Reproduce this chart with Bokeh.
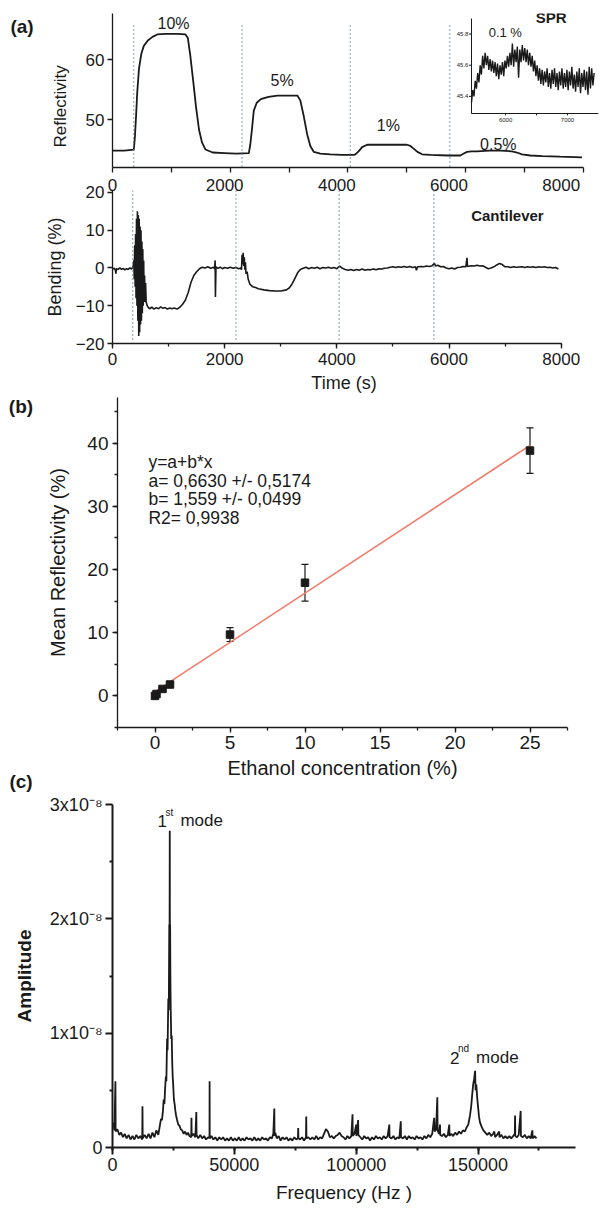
import math
from bokeh.plotting import figure
from bokeh.models import (Range1d, LinearAxis, SingleIntervalTicker, FixedTicker, Div,
                          ColumnDataSource, Whisker, TeeHead, Label, Title, BasicTickFormatter)
from bokeh.layouts import column, row
from bokeh.embed import file_html
from bokeh.resources import INLINE

FONT = "Liberation Sans"
INK = "#1a1a1a"

# ---------------- panel (a): SPR reflectivity vs time ----------------
refl_time = [0, 200, 362, 380, 400, 420, 450, 490, 532, 600, 680, 760, 900, 1100, 1240, 1280, 1320, 1370, 1420, 1470, 1520, 1580, 1700, 1900, 2100,
             2316, 2340, 2370, 2400, 2450, 2520, 2650, 2800, 3000, 3140, 3190, 3250, 3305, 3360, 3420, 3530, 3700, 3900, 4100,
             4125, 4180, 4240, 4325, 4500, 4800, 5000, 5060, 5110, 5180, 5258, 5400, 5700,
             5908, 5960, 6022, 6100, 6192, 6400, 6600, 6786, 6870, 6956, 7097, 7300, 7600, 7975]
refl_value = [44.8, 44.8, 45.0, 47.0, 50.5, 54.5, 58.5, 61.0, 62.3, 63.2, 63.8, 64.2, 64.3, 64.3, 64.2, 63.6, 60.8, 56.5, 52.0, 48.3, 46.2, 45.0, 44.5, 44.4, 44.3,
              44.4, 45.8, 48.5, 51.5, 52.8, 53.4, 53.8, 54.0, 54.0, 54.0, 53.2, 50.5, 47.6, 45.6, 44.6, 44.3, 44.2, 44.1, 44.1,
              44.2, 44.7, 45.4, 45.8, 45.8, 45.8, 45.8, 45.6, 45.2, 44.6, 44.2, 44.1, 44.0,
              44.0, 44.3, 44.6, 44.7, 44.7, 44.8, 44.8, 44.7, 44.5, 44.2, 44.0, 43.9, 43.8, 43.7]
time_ticks_minor = [0, 1000, 2000, 3000, 4000, 5000, 6000, 7000, 8000]

# inset: 0.1 % step
inset_time = [5450, 5470, 5490, 5510, 5530, 5550, 5570, 5590, 5610, 5630,
              5650, 5670, 5690, 5710, 5730, 5750, 5770, 5790, 5810, 5830,
              5850, 5870, 5890, 5910, 5930, 5950, 5970, 5990, 6010, 6030,
              6050, 6070, 6090, 6110, 6130, 6150, 6170, 6190, 6210, 6230,
              6250, 6270, 6290, 6310, 6330, 6350, 6370, 6390, 6410, 6430,
              6450, 6470, 6490, 6510, 6530, 6550, 6570, 6590, 6610, 6630,
              6650, 6670, 6690, 6710, 6730, 6750, 6770, 6790, 6810, 6830,
              6850, 6870, 6890, 6910, 6930, 6950, 6970, 6990, 7010, 7030,
              7050, 7070, 7090, 7110, 7130, 7150, 7170, 7190, 7210, 7230,
              7250, 7270, 7290, 7310, 7330, 7350, 7370, 7390, 7410, 7430]
inset_value = [45.36, 45.44, 45.40, 45.50, 45.45, 45.55, 45.49, 45.60, 45.54, 45.66,
               45.58, 45.68, 45.60, 45.66, 45.57, 45.64, 45.56, 45.63, 45.55, 45.62,
               45.53, 45.61, 45.51, 45.60, 45.54, 45.62, 45.53, 45.63, 45.58, 45.66,
               45.59, 45.68, 45.60, 45.74, 45.59, 45.70, 45.62, 45.72, 45.52, 45.70,
               45.62, 45.73, 45.63, 45.71, 45.62, 45.70, 45.60, 45.68, 45.59, 45.66,
               45.56, 45.63, 45.53, 45.60, 45.50, 45.58, 45.48, 45.57, 45.47, 45.56,
               45.49, 45.58, 45.46, 45.55, 45.45, 45.57, 45.48, 45.58, 45.46, 45.55,
               45.44, 45.56, 45.47, 45.58, 45.45, 45.55, 45.46, 45.57, 45.44, 45.56,
               45.47, 45.59, 45.45, 45.54, 45.43, 45.56, 45.46, 45.58, 45.42, 45.55,
               45.46, 45.57, 45.44, 45.56, 45.41, 45.59, 45.45, 45.58, 45.47, 45.55]
inset_ticks_y = [45.4, 45.6, 45.8]
inset_ticks_x = [6000, 7000]
inset_ticks_x_minor = [6000, 6500, 7000]

# cantilever bending vs time
bend_time = [0, 30, 50, 60, 70, 100, 130, 160, 190, 220, 250, 280, 310, 340, 370,
             380, 388, 396, 404, 412, 420, 428, 436, 444, 452, 460, 468, 476, 484, 492, 500, 508, 516, 524, 532, 540, 548, 556, 564, 572, 580, 590, 600, 620, 640,
             660, 700, 740, 780, 820, 860, 900, 940, 980, 1020, 1060, 1100, 1150,
             1200, 1250, 1300, 1350, 1400, 1450, 1500, 1550, 1600,
             1650, 1700, 1750, 1800, 1820, 1830, 1835, 1845, 1880, 1920, 1960, 2000, 2050, 2100, 2150, 2200, 2250, 2290,
             2300, 2310, 2320, 2330, 2340, 2350, 2360, 2370, 2380, 2400, 2420, 2450, 2500, 2550,
             2600, 2700, 2800, 2900, 3000, 3100, 3150, 3200, 3250, 3300, 3350, 3400,
             3450, 3500, 3550, 3600, 3650, 3700, 3750, 3800, 3850, 3900, 3950, 4000, 4050, 4100,
             4150, 4200, 4250, 4300, 4350, 4400, 4450, 4500, 4550, 4600, 4650, 4700, 4750, 4800, 4850, 4900, 4950,
             5000, 5050, 5100, 5150, 5200, 5250, 5300, 5350, 5400, 5420, 5440, 5500, 5550, 5600, 5650, 5700, 5740, 5760, 5800, 5850, 5900, 5950,
             6000, 6050, 6100, 6150, 6200, 6250, 6300, 6320, 6330, 6400, 6450, 6500, 6550, 6600, 6650, 6700, 6750, 6800, 6850, 6900, 6950,
             7000, 7050, 7100, 7150, 7200, 7300, 7350, 7400, 7450, 7500, 7550, 7600, 7650, 7700, 7750, 7800, 7850, 7900, 7950]
bend_value = [-0.3, -0.1, -0.5, -1.5, -0.2, -0.4, 0.0, -0.4, -0.1, -0.5, -0.2, -0.4, 0.0, -0.3, 0.5,
              2, -3, 6, -5, 9, -8, 13, -10, 15, -14, 14, -18, 13, -17, 11, -15, 10, -14, 7, -12, 5, -10, 2, -9, -2, -9, -4, -9, -10, -10.5,
              -10.8, -10.4, -10.9, -10.5, -10.8, -10.3, -10.7, -10.5, -10.9, -10.6, -10.8, -10.6, -10.9,
              -10.4, -9.6, -8.5, -6.5, -3.8, -2.0, -1.0, -0.2, 0.2,
              0.0, 0.3, -0.1, 0.2, -0.2, 2.0, -7.7, 0.3, -0.1, 0.2, -0.2, 0.1, -0.1, 0.2, -0.1, 0.1, -0.2, 0.0,
              -0.5, 3.5, 1.0, 4.0, 0.5, 2.8, -0.5, 1.5, -1.5, -1.0, -3.0, -4.3, -5.0, -5.2,
              -5.5, -5.8, -6.0, -6.1, -6.1, -5.8, -5.3, -4.3, -2.8, -1.3, -0.4, -0.1,
              0.2, -0.2, 0.1, -0.1, 0.2, -0.2, 0.1, 0.0, 0.2, -0.1, 0.1, -0.2, 0.5, -0.1,
              -0.4, -0.6, -0.4, -0.7, -0.4, -0.6, -0.3, -0.6, -0.4, -0.5, -0.3, -0.5, -0.2, -0.3, -0.1, 0.0, 0.2,
              0.3, 0.1, 0.3, 0.2, 0.4, 0.2, 0.4, 0.1, 0.3, -0.6, 0.3, 0.4, 0.3, 0.5, 0.4, 0.6, 1.2, 0.5, 0.7, 0.3, 0.4, 0.0,
              -0.2, 0.0, -0.3, 0.1, 0.2, 0.4, 0.3, 2.7, 0.4, 0.6, 0.5, 0.7, 0.5, 0.6, 0.2, -0.2, 0.0, 0.3, 0.8, 1.2, 0.9,
              0.3, 0.3, 0.1, 0.3, 0.2, 0.3, 0.1, 0.3, 0.2, 0.3, 0.1, 0.3, 0.2, 0.3, 0.1, 0.2, 0.0, 0.1, -0.3]

injection_times = [360, 2200, 4040, 5730]
step_labels = ["10%", "5%", "1%", "0.5%"]

# ---------------- panel (b): calibration ----------------
ethanol_conc = [0, 0.1, 0.5, 1, 5, 10, 25]
mean_refl = [0.0, 0.3, 1.1, 1.8, 9.7, 17.9, 38.8]
refl_err = [0.2, 0.2, 0.3, 0.3, 1.1, 2.9, 3.6]
fit_a, fit_b = 0.6630, 1.559
fit_text = ["y=a+b*x", "a= 0,6630 +/- 0,5174", "b= 1,559 +/- 0,0499", "R2= 0,9938"]

# ---------------- panel (c): spectrum ----------------
freq_hz = [300, 800, 1200, 1300, 2000, 2800, 3500, 4300, 5000, 5800, 6600, 7400, 8200, 9000, 9800, 10600, 11400, 12200, 12300, 12400,
           13200, 14000, 14800, 15600, 16400, 17200, 18000, 18800, 19500, 19900,
           20300, 20700, 21000, 21300, 21600, 21900, 22100, 22400, 22600, 22900, 23100, 23300, 23400, 23500, 23550, 23650, 23750, 23900, 24100, 24300,
           24500, 24700, 24900, 25200, 25500, 25800, 26100, 26500, 27000, 27500, 28000, 28600, 29200, 29800, 30400, 31000, 31600,
           32300, 32400, 32500, 33200, 34000, 34400, 34500, 35200, 36000, 36800, 37600, 38400, 39200, 39800, 39850, 39900,
           40600, 41400, 42200, 43000, 43800, 44600, 45400, 46200, 47000, 47800, 48600, 49400, 50200, 51000, 51800, 52600,
           53400, 54200, 55000, 55800, 56600, 57400, 58200, 59000, 59800, 60600, 61400, 62200, 63000, 63800, 64600, 65400,
           66000, 66400, 66500, 66800, 67400, 68200, 69000, 69800, 70600, 71400, 72200, 73000, 73800, 74600, 75400, 76100, 76200, 76300,
           77000, 77800, 78600, 79400, 79500, 79600, 80400, 81200, 82000, 82800, 83600, 84400, 85200, 86000, 86800, 87600, 88400, 89200,
           90000, 90800, 91600, 92400, 93200, 94000, 94800, 95600, 96400, 97200, 98000, 98500, 98600, 99300, 100000, 100100, 100800, 100900,
           101700, 102500, 103300, 104100, 104900, 105700, 106500, 107300, 108100, 108900, 109700, 110500, 111300, 112100, 112900, 113600, 113700,
           114500, 115300, 116100, 116900, 117700, 118300, 118400,
           119200, 120000, 120800, 121600, 122400, 123200, 124000, 124800, 125600, 126400, 127200, 128000, 128800, 129600, 130400, 131200,
           132000, 132200, 132800, 133300, 133400, 134000, 134400, 134500,
           135200, 136000, 136800, 137600, 138200, 138300, 139000, 139800, 140600, 141400, 142200, 143000, 143800, 144600, 145400,
           146000, 146700, 147200, 147600, 148000, 148400, 148800, 149000, 149300, 149600, 150000, 150400, 150800, 151500,
           152200, 153000, 153800, 154600, 155400, 156200, 156700, 157000, 157800, 158700, 158800, 159600, 160400, 161200, 162000, 162800, 163600,
           164400, 165100, 165200, 165300, 166000, 166700, 167500, 167600, 168400, 169200, 170000, 170800, 171600, 172300, 172400, 173200, 174000]
amp_1e8 = [0.22, 0.15, 0.58, 0.14, 0.16, 0.11, 0.13, 0.09, 0.12, 0.08, 0.11, 0.07, 0.10, 0.07, 0.11, 0.08, 0.10, 0.07, 0.36, 0.08,
           0.11, 0.08, 0.12, 0.08, 0.13, 0.09, 0.15, 0.11, 0.20, 0.25,
           0.24, 0.32, 0.42, 0.38, 0.52, 0.62, 0.58, 0.95, 0.85, 1.30, 1.20, 1.95, 1.60, 2.77, 1.90, 1.95, 1.50, 1.20, 0.95, 0.98,
           0.75, 0.62, 0.55, 0.42, 0.38, 0.32, 0.28, 0.24, 0.20, 0.19, 0.16, 0.15, 0.12, 0.14, 0.11, 0.13, 0.10,
           0.09, 0.26, 0.10, 0.12, 0.09, 0.31, 0.11, 0.08, 0.11, 0.08, 0.10, 0.07, 0.09, 0.08, 0.58, 0.08,
           0.10, 0.07, 0.09, 0.06, 0.09, 0.07, 0.09, 0.06, 0.08, 0.06, 0.09, 0.06, 0.08, 0.06, 0.09, 0.06,
           0.08, 0.06, 0.09, 0.07, 0.08, 0.06, 0.09, 0.06, 0.08, 0.06, 0.09, 0.07, 0.08, 0.06, 0.09, 0.08,
           0.12, 0.34, 0.10, 0.13, 0.08, 0.10, 0.06, 0.09, 0.07, 0.09, 0.06, 0.08, 0.06, 0.09, 0.07, 0.08, 0.17, 0.08,
           0.07, 0.09, 0.06, 0.09, 0.27, 0.08, 0.09, 0.07, 0.09, 0.07, 0.10, 0.07, 0.09, 0.08, 0.12, 0.16, 0.14, 0.09,
           0.10, 0.08, 0.10, 0.11, 0.13, 0.10, 0.09, 0.07, 0.10, 0.08, 0.10, 0.29, 0.10, 0.12, 0.20, 0.10, 0.24, 0.11,
           0.09, 0.07, 0.10, 0.08, 0.09, 0.06, 0.09, 0.07, 0.10, 0.08, 0.09, 0.07, 0.10, 0.08, 0.10, 0.20, 0.09,
           0.08, 0.10, 0.07, 0.09, 0.08, 0.23, 0.09,
           0.08, 0.10, 0.07, 0.10, 0.08, 0.09, 0.07, 0.10, 0.08, 0.09, 0.07, 0.10, 0.08, 0.11, 0.09, 0.12,
           0.26, 0.14, 0.16, 0.44, 0.15, 0.12, 0.20, 0.11,
           0.10, 0.12, 0.09, 0.11, 0.20, 0.10, 0.12, 0.10, 0.13, 0.11, 0.14, 0.12, 0.15, 0.14, 0.18,
           0.20, 0.28, 0.36, 0.46, 0.55, 0.60, 0.67, 0.50, 0.55, 0.45, 0.36, 0.27, 0.22, 0.18,
           0.15, 0.13, 0.11, 0.13, 0.10, 0.12, 0.14, 0.09, 0.11, 0.14, 0.09, 0.11, 0.08, 0.10, 0.08, 0.10, 0.08,
           0.10, 0.12, 0.28, 0.10, 0.09, 0.11, 0.32, 0.10, 0.09, 0.11, 0.08, 0.10, 0.08, 0.15, 0.08, 0.10, 0.08]
amp_tick_labels = {0: "0", 1: "1x10\u207b\u2078", 2: "2x10\u207b\u2078", 3: "3x10\u207b\u2078"}

assert len(refl_time) == len(refl_value)
assert len(inset_time) == len(inset_value)
assert len(bend_time) == len(bend_value)
assert len(freq_hz) == len(amp_1e8)


def style(p, tick_px, label_px, axis_w, tick_out=5):
    p.xgrid.visible = False
    p.ygrid.visible = False
    p.outline_line_color = None
    p.background_fill_color = "white"
    p.border_fill_color = "white"
    for ax in p.axis:
        ax.axis_line_width = axis_w
        ax.axis_line_color = INK
        ax.major_tick_line_color = INK
        ax.major_tick_line_width = axis_w
        ax.minor_tick_line_color = INK
        ax.minor_tick_line_width = axis_w
        ax.major_tick_in = 0
        ax.major_tick_out = tick_out
        ax.minor_tick_in = 0
        ax.minor_tick_out = 3
        ax.major_label_text_font = FONT
        ax.major_label_text_font_size = f"{tick_px}px"
        ax.major_label_text_color = INK
        ax.axis_label_text_font = FONT
        ax.axis_label_text_font_size = f"{label_px}px"
        ax.axis_label_text_font_style = "normal"
        ax.axis_label_text_color = INK


def add_text(p, x, y, text, size, bold=False, align="left", baseline="middle",
             angle=0.0, xr="default", yr="default"):
    p.add_layout(Label(x=x, y=y, text=text, text_font=FONT, text_font_size=f"{size}px",
                       text_font_style="bold" if bold else "normal", text_align=align,
                       text_baseline=baseline, angle=angle, text_color=INK,
                       x_range_name=xr, y_range_name=yr))


def span_range(v0, v1, f0, f1):
    scale = (v1 - v0) / (f1 - f0)
    start = v0 - f0 * scale
    return Range1d(start, start + scale)


LETTER_W = 36


def letter_div(height, letters):
    """narrow strip holding the bold panel letters (left/top in px inside the strip)"""
    items = "".join(
        f'<div style="position:absolute;left:{x}px;top:{y}px;width:28px;text-align:center;'
        f'line-height:20px;white-space:nowrap;">{t}</div>' for t, x, y in letters)
    html = (f'<div style="position:relative;width:{LETTER_W}px;height:{height}px;'
            f'font-family:\'{FONT}\',Arial,sans-serif;font-weight:bold;font-size:19px;color:{INK};">'
            f'{items}</div>')
    return Div(text=html, width=LETTER_W, height=height, margin=(0, 0, 0, 0))


W = 600
time_range = Range1d(0, 8255)

# ---------- (a) top: reflectivity ----------
pA = figure(width=W - LETTER_W, height=173, x_range=time_range, y_range=Range1d(42, 67.7),
            output_backend="svg", toolbar_location=None,
            min_border_left=112 - LETTER_W, min_border_right=2, min_border_top=13, min_border_bottom=6)
pA.line(refl_time, refl_value, color=INK, line_width=1.8)
pA.segment(x0=injection_times, y0=[65.7] * 4, x1=injection_times, y1=[42] * 4,
           line_color="#4d7396", line_width=1.4, line_dash="1 3")
style(pA, 17, 18, 1.3)
pA.xaxis.ticker = FixedTicker(ticks=[], minor_ticks=time_ticks_minor)
pA.xaxis.minor_tick_out = 5
pA.xaxis.bounds = (0, 8000)
pA.yaxis.ticker = FixedTicker(ticks=[50, 60], minor_ticks=[])
pA.yaxis.major_label_standoff = 3
pA.add_layout(Title(text="Reflectivity", align="left", offset=20, standoff=24,
                    vertical_align="middle", text_font=FONT, text_font_size="17px",
                    text_font_style="normal", text_color=INK), "left")

# inset mapped to its own pixel box inside the frame
frame_x = (112, 598)
frame_y = (13, 167)
inset_px_x = (471, 598)
inset_px_y = (113, 18)
fx0 = (inset_px_x[0] - frame_x[0]) / (frame_x[1] - frame_x[0])
fx1 = (inset_px_x[1] - frame_x[0]) / (frame_x[1] - frame_x[0])
fy0 = (frame_y[1] - inset_px_y[0]) / (frame_y[1] - frame_y[0])
fy1 = (frame_y[1] - inset_px_y[1]) / (frame_y[1] - frame_y[0])
t_lo, t_hi, r_lo, r_hi = 5450, 7500, 45.29, 45.9
pA.extra_x_ranges = {"ix": span_range(t_lo, t_hi, fx0, fx1)}
pA.extra_y_ranges = {"iy": span_range(r_lo, r_hi, fy0, fy1)}
pA.line(inset_time, inset_value, x_range_name="ix", y_range_name="iy", color=INK, line_width=1.4)
pA.line([t_lo, t_lo, t_hi], [r_hi, r_lo, r_lo], x_range_name="ix", y_range_name="iy",
        color=INK, line_width=1.0)
pA.segment(x0=[t_lo] * 3, y0=inset_ticks_y, x1=[t_lo - 40] * 3, y1=inset_ticks_y,
           x_range_name="ix", y_range_name="iy", color=INK, line_width=1.0)
pA.segment(x0=inset_ticks_x_minor, y0=[r_lo] * 3, x1=inset_ticks_x_minor, y1=[r_lo - 0.012] * 3,
           x_range_name="ix", y_range_name="iy", color=INK, line_width=1.0)
for v in inset_ticks_y:
    add_text(pA, t_lo - 50, v, f"{v:.1f}", 6, align="right", xr="ix", yr="iy")
for v in inset_ticks_x:
    add_text(pA, v, r_lo - 0.03, str(v), 6, align="center", baseline="top", xr="ix", yr="iy")
add_text(pA, 6672, 64.56, "0.1 %", 13, align="center")
add_text(pA, 7453, 67.0, "SPR", 15, bold=True, align="center")

add_text(pA, 1036, 66.0, step_labels[0], 16, align="center")
add_text(pA, 2881, 56.6, step_labels[1], 16, align="center")
add_text(pA, 4686, 49.0, step_labels[2], 16, align="center")
add_text(pA, 6553, 45.9, step_labels[3], 16, align="center")

LA = letter_div(173, [("(a)", 8, 17)])

# ---------- (a) bottom: bending ----------
pB = figure(width=W, height=222, x_range=time_range, y_range=Range1d(-20, 20.5),
            output_backend="svg", toolbar_location=None,
            min_border_left=112, min_border_right=2, min_border_top=17, min_border_bottom=51)
top_ax = LinearAxis(ticker=SingleIntervalTicker(interval=2000, num_minor_ticks=2), bounds=(0, 8000))
pB.add_layout(top_ax, "above")
pB.line(bend_time, bend_value, color=INK, line_width=1.6)
pB.segment(x0=injection_times, y0=[20.5] * 4, x1=injection_times, y1=[-19] * 4,
           line_color="#4d7396", line_width=1.4, line_dash="1 3")
style(pB, 17, 18, 1.3)
top_ax.axis_line_color = None
top_ax.major_tick_line_color = None
top_ax.minor_tick_line_color = None
top_ax.major_tick_out = 0
top_ax.minor_tick_out = 0
top_ax.major_label_standoff = 0
pB.below[0].ticker = SingleIntervalTicker(interval=2000, num_minor_ticks=2)
pB.below[0].bounds = (0, 8000)
pB.below[0].axis_label = "Time (s)"
pB.below[0].major_label_standoff = 4
pB.below[0].axis_label_standoff = 5
pB.yaxis.ticker = FixedTicker(ticks=[-20, -10, 0, 10, 20], minor_ticks=[])
pB.yaxis.axis_label = "Bending (%)"
pB.yaxis.major_label_standoff = 3
pB.yaxis.axis_label_standoff = 8
add_text(pB, 7041, 13.9, "Cantilever", 15, bold=True, align="center")

# ---------- (b) calibration ----------
HC = 397
pC = figure(width=W - LETTER_W, height=HC, x_range=Range1d(-2.5, 27.5), y_range=Range1d(-5, 47.2),
            output_backend="svg", toolbar_location=None,
            min_border_left=117 - LETTER_W, min_border_right=33, min_border_top=2, min_border_bottom=HC - 332)
fit_x = [0, 25]
fit_y = [fit_a + fit_b * x for x in fit_x]
pC.line(fit_x, fit_y, color="#f27a6b", line_width=1.6)
src = ColumnDataSource(dict(x=ethanol_conc, y=mean_refl,
                            upper=[m + e for m, e in zip(mean_refl, refl_err)],
                            lower=[m - e for m, e in zip(mean_refl, refl_err)]))
pC.add_layout(Whisker(source=src, base="x", upper="upper", lower="lower", dimension="height",
                      line_color=INK, line_width=1.2,
                      upper_head=TeeHead(size=7, line_color=INK, line_width=1.2),
                      lower_head=TeeHead(size=7, line_color=INK, line_width=1.2)))
pC.scatter("x", "y", source=src, marker="square", size=7.5, color=INK)
style(pC, 19, 20, 1.3)
pC.xaxis.ticker = SingleIntervalTicker(interval=5, num_minor_ticks=2)
pC.yaxis.ticker = SingleIntervalTicker(interval=10, num_minor_ticks=2)
pC.xaxis.axis_label = "Ethanol concentration (%)"
pC.yaxis.axis_label = "Mean Reflectivity (%)"
pC.xaxis.major_label_standoff = 3
pC.xaxis.axis_label_standoff = 5
pC.yaxis.major_label_standoff = 4
pC.yaxis.axis_label_standoff = 15
for i, line in enumerate(fit_text):
    add_text(pC, -0.44, 36.97 - 2.95 * i, line, 17.5)

LC = letter_div(HC, [("(b)", 7, 2), ("(c)", 7, 377)])

# ---------- (c) spectrum ----------
pD = figure(width=W, height=415, x_range=Range1d(0, 190000), y_range=Range1d(0, 3.0),
            output_backend="svg", toolbar_location=None,
            min_border_left=112, min_border_right=25, min_border_top=12, min_border_bottom=60)
pD.line(freq_hz, amp_1e8, color=INK, line_width=1.8)
style(pD, 18, 19, 2.0, tick_out=7)
pD.xaxis.ticker = SingleIntervalTicker(interval=50000, num_minor_ticks=2)
pD.xaxis.formatter = BasicTickFormatter(use_scientific=False)
pD.yaxis.ticker = FixedTicker(ticks=[0, 1, 2, 3], minor_ticks=[0.5, 1.5, 2.5])
pD.yaxis.major_label_overrides = amp_tick_labels
pD.xaxis.axis_label = "Frequency (Hz )"
pD.yaxis.axis_label = "Amplitude"
pD.yaxis.axis_label_text_font_style = "bold"
pD.xaxis.major_label_standoff = 3
pD.xaxis.axis_label_standoff = 8
pD.yaxis.major_label_standoff = 3
pD.yaxis.axis_label_standoff = 12
add_text(pD, 18440, 2.86, "1", 17)
add_text(pD, 21720, 2.93, "st", 10)
add_text(pD, 27870, 2.86, "mode", 17)
add_text(pD, 138500, 0.787, "2", 17)
add_text(pD, 141800, 0.866, "nd", 10)
add_text(pD, 149200, 0.787, "mode", 17)

layout = column(row(LA, pA), pB, row(LC, pC), pD)
open("out.html", "w").write(file_html(layout, INLINE))
